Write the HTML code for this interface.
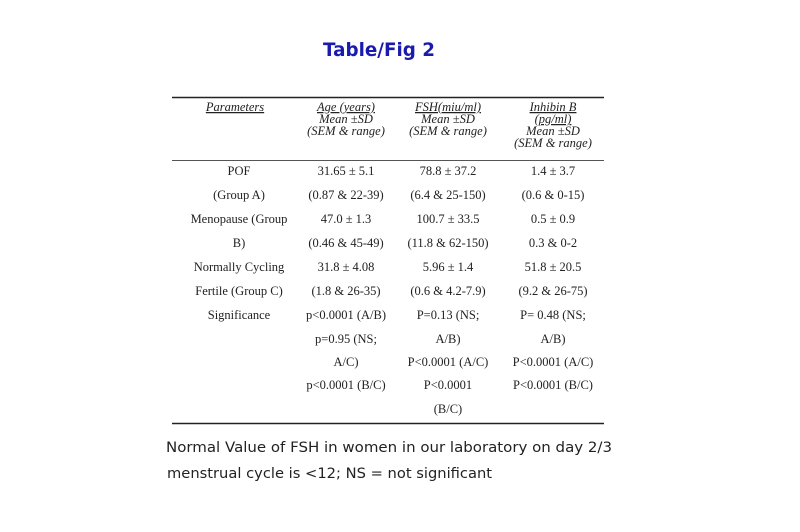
<!DOCTYPE html>
<html><head><meta charset="utf-8"><style>
html,body{margin:0;padding:0;background:#fff;}
svg{display:block;}
.s{font-family:"Liberation Serif",serif;font-size:12.5px;fill:#222;}
.i{font-style:italic;}
</style></head><body>
<svg width="800" height="532" viewBox="0 0 800 532" xmlns="http://www.w3.org/2000/svg">
<text x="323" y="56" textLength="112" lengthAdjust="spacingAndGlyphs" font-family="DejaVu Sans,sans-serif" font-weight="bold" font-size="19" fill="#1a1aae">Table/Fig 2</text>
<line x1="172" y1="97.5" x2="604" y2="97.5" stroke="#222" stroke-width="1.5"/>
<line x1="172" y1="160.5" x2="604" y2="160.5" stroke="#555" stroke-width="1"/>
<line x1="172" y1="423.5" x2="604" y2="423.5" stroke="#222" stroke-width="1.5"/>
<g class="s i" text-anchor="middle">
<text x="235" y="111" text-decoration="underline">Parameters</text>
<text x="346" y="111" text-decoration="underline">Age (years)</text>
<text x="346" y="123">Mean ±SD</text>
<text x="346" y="135">(SEM &amp; range)</text>
<text x="448" y="111" text-decoration="underline">FSH(miu/ml)</text>
<text x="448" y="123">Mean ±SD</text>
<text x="448" y="135">(SEM &amp; range)</text>
<text x="553" y="111" text-decoration="underline">Inhibin B</text>
<text x="553" y="123" text-decoration="underline">(pg/ml)</text>
<text x="553" y="135">Mean ±SD</text>
<text x="553" y="147">(SEM &amp; range)</text>
</g>
<g class="s" text-anchor="middle">
<text x="239" y="175">POF</text>
<text x="346" y="175">31.65 ± 5.1</text>
<text x="448" y="175">78.8 ± 37.2</text>
<text x="553" y="175">1.4 ± 3.7</text>
<text x="239" y="199">(Group A)</text>
<text x="346" y="199">(0.87 &amp; 22-39)</text>
<text x="448" y="199">(6.4 &amp; 25-150)</text>
<text x="553" y="199">(0.6 &amp; 0-15)</text>
<text x="239" y="223">Menopause (Group</text>
<text x="346" y="223">47.0 ± 1.3</text>
<text x="448" y="223">100.7 ± 33.5</text>
<text x="553" y="223">0.5 ± 0.9</text>
<text x="239" y="247">B)</text>
<text x="346" y="247">(0.46 &amp; 45-49)</text>
<text x="448" y="247">(11.8 &amp; 62-150)</text>
<text x="553" y="247">0.3 &amp; 0-2</text>
<text x="239" y="271">Normally Cycling</text>
<text x="346" y="271">31.8 ± 4.08</text>
<text x="448" y="271">5.96 ± 1.4</text>
<text x="553" y="271">51.8 ± 20.5</text>
<text x="239" y="295">Fertile (Group C)</text>
<text x="346" y="295">(1.8 &amp; 26-35)</text>
<text x="448" y="295">(0.6 &amp; 4.2-7.9)</text>
<text x="553" y="295">(9.2 &amp; 26-75)</text>
<text x="239" y="319">Significance</text>
<text x="346" y="319">p&lt;0.0001 (A/B)</text>
<text x="448" y="319">P=0.13 (NS;</text>
<text x="553" y="319">P= 0.48 (NS;</text>
<text x="346" y="343">p=0.95 (NS;</text>
<text x="448" y="343">A/B)</text>
<text x="553" y="343">A/B)</text>
<text x="346" y="366">A/C)</text>
<text x="448" y="366">P&lt;0.0001 (A/C)</text>
<text x="553" y="366">P&lt;0.0001 (A/C)</text>
<text x="346" y="389">p&lt;0.0001 (B/C)</text>
<text x="448" y="389">P&lt;0.0001</text>
<text x="553" y="389">P&lt;0.0001 (B/C)</text>
<text x="448" y="413">(B/C)</text>
</g>
<g font-family="DejaVu Sans,sans-serif" font-size="14" fill="#222">
<text x="166" y="452" textLength="446" lengthAdjust="spacingAndGlyphs">Normal Value of FSH in women in our laboratory on day 2/3</text>
<text x="167" y="478" textLength="325" lengthAdjust="spacingAndGlyphs">menstrual cycle is &lt;12; NS = not  significant</text>
</g>
</svg>
</body></html>
